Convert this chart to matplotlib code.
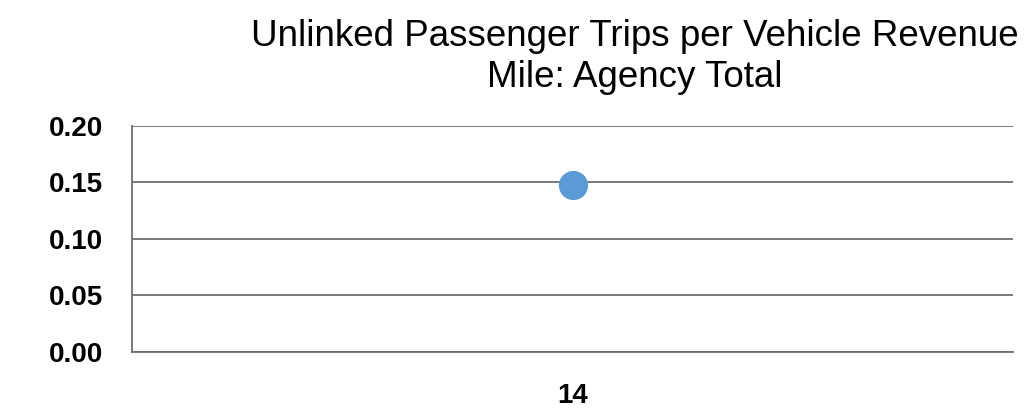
import matplotlib
matplotlib.use("Agg")
import matplotlib.pyplot as plt

# data
categories = ["14"]
values = [0.148]
y_ticks = [0.00, 0.05, 0.10, 0.15, 0.20]

plt.rcParams['font.family'] = ['Liberation Sans', 'DejaVu Sans']

fig = plt.figure(figsize=(10.25, 4.09), dpi=100)
ax = fig.add_axes([0.1288, 0.1394, 0.8595, 0.5526])

x = list(range(len(categories)))
ax.plot(x, values, linestyle='none', marker='o', markersize=20,
        color='#5B9BD5', zorder=3)

ax.set_xlim(-0.5, len(categories) - 0.5)
ax.set_ylim(0, 0.20)
ax.set_yticks(y_ticks)
ax.set_yticklabels([f"{v:.2f}" for v in y_ticks], fontsize=20, fontweight='bold')
ax.set_xticks(x)
ax.set_xticklabels(categories, fontsize=20, fontweight='bold')
ax.tick_params(axis='y', length=0, pad=21)
ax.tick_params(axis='x', length=0, pad=22)

ax.grid(axis='y', color='#6e6e6e', linewidth=1.3)
ax.set_axisbelow(True)
for s in ['top', 'right']:
    ax.spines[s].set_visible(False)
for s in ['left', 'bottom']:
    ax.spines[s].set_color('#6e6e6e')
    ax.spines[s].set_linewidth(1.3)

# title, baseline of last line at ~87px from top
fig.text(0.619, 1 - 87 / 409, "Unlinked Passenger Trips per Vehicle Revenue\nMile: Agency Total",
         ha='center', va='baseline', fontsize=26.5, linespacing=1.24)

fig.savefig("out.png", dpi=100)
